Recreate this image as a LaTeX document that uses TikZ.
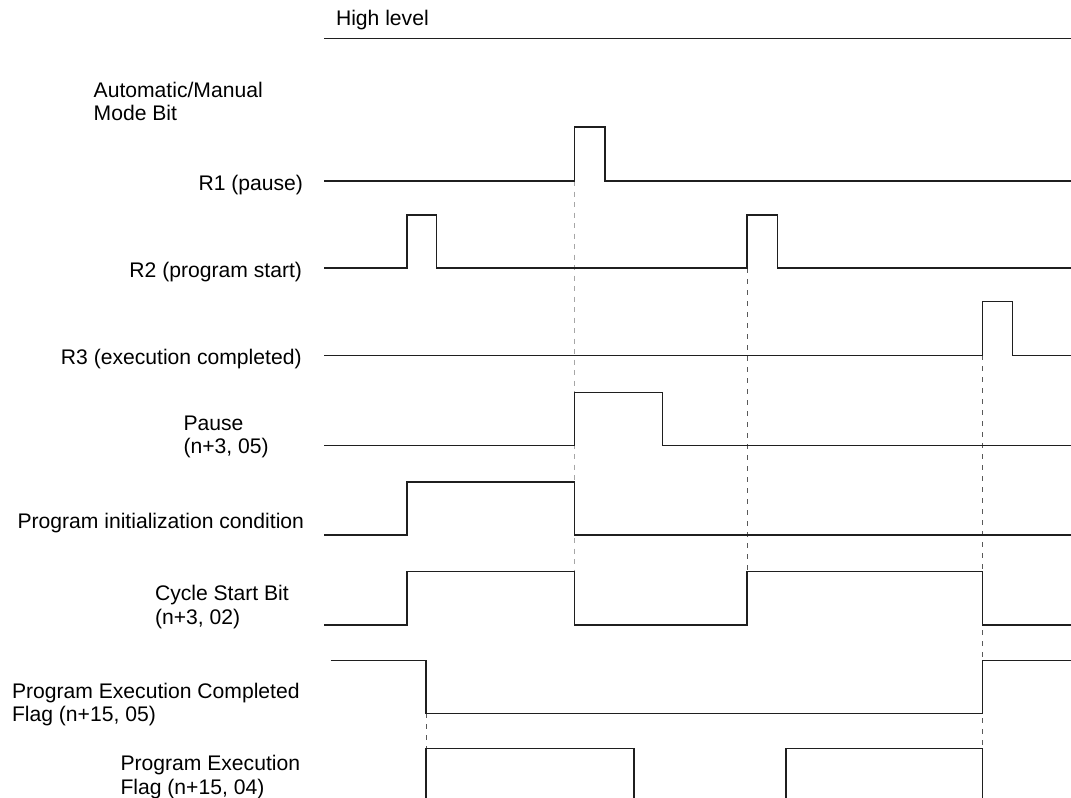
\documentclass[tikz,border=0pt]{standalone}
\usepackage{fontspec}
\setmainfont{Liberation Sans}
\begin{document}
\begin{tikzpicture}[x=1bp,y=-1bp,
  lbl/.style={inner sep=0pt, outer sep=0pt, font=\fontsize{21.2}{23.4}\selectfont},
  wave/.style={line width=1.4bp, color=black!88, line join=miter},
  guidelight/.style={line width=1.5bp, color=black!35, dash pattern=on 5bp off 5.5bp},
  guidedark/.style={line width=0.9bp, color=black!65, dash pattern=on 5bp off 6bp}
]
\useasboundingbox (0,0) rectangle (1071,798);

% labels (multi-line nodes: base anchor = baseline of last line)
\node[lbl, anchor=base west] (hl) at (336,26) {High level};
\node[lbl, anchor=base west, align=left] (am) at (93.7,120.5) {Automatic/Manual\\Mode Bit};
\node[lbl, anchor=base east] (r1) at (303,190) {R1 (pause)};
\node[lbl, anchor=base east] (r2) at (302,277) {R2 (program start)};
\node[lbl, anchor=base east] (r3) at (301.6,364.5) {R3 (execution completed)};
\node[lbl, anchor=base west, align=left] (pa) at (183.5,453.5) {Pause\\(n+3, 05)};
\node[lbl, anchor=base east] (pi) at (304,528) {Program initialization condition};
\node[lbl, anchor=base west, align=left] (cs) at (155,624.3) {Cycle Start Bit\\(n+3, 02)};
\node[lbl, anchor=base west, align=left] (pec) at (12,721.7) {Program Execution Completed\\Flag (n+15, 05)};
\node[lbl, anchor=base west, align=left] (pe) at (120.5,794) {Program Execution\\Flag (n+15, 04)};

% guide coordinates
\coordinate (g1a) at (574.5,181);   \coordinate (g1b) at (574.5,625);
\coordinate (g2a) at (747,268);     \coordinate (g2b) at (747,625);
\coordinate (g3a) at (982.3,355.3); \coordinate (g3b) at (982.3,798);
\coordinate (g4a) at (426,713.3);   \coordinate (g4b) at (426,748.3);

\draw[guidelight] (g1a) -- (g1b);
\draw[guidedark] (g2a) -- (g2b);
\draw[guidedark] (g3a) -- (g3b);
\draw[guidedark] (g4a) -- (g4b);

% waveforms
\draw[wave] (324,38.7) -- (1071,38.7);
\draw[wave] (324,181) -- (574.5,181) |- (605,127) |- (1071,181);
\draw[wave] (324,268) -- (407,268) |- (436.5,215) |- (747,268) |- (777.7,215) |- (1071,268);
\draw[wave] (324,355.3) -- (982.3,355.3) |- (1012.7,301.7) |- (1071,355.3);
\draw[wave] (324,445.7) -- (574.5,445.7) |- (662.6,392.3) |- (1071,445.7);
\draw[wave] (324,535) -- (407,535) |- (574.5,482) |- (1071,535);
\draw[wave] (324,625) -- (407,625) |- (574.5,571.7) |- (747,625) |- (982.3,571.7) |- (1071,625);
\draw[wave] (330.6,660.7) -- (426,660.7) |- (982.3,713.3) |- (1071,660.7);
\draw[wave] (426,800) |- (634,748.3) -- (634,800);
\draw[wave] (786,800) |- (982.3,748.3) -- (982.3,800);
\end{tikzpicture}
\end{document}
